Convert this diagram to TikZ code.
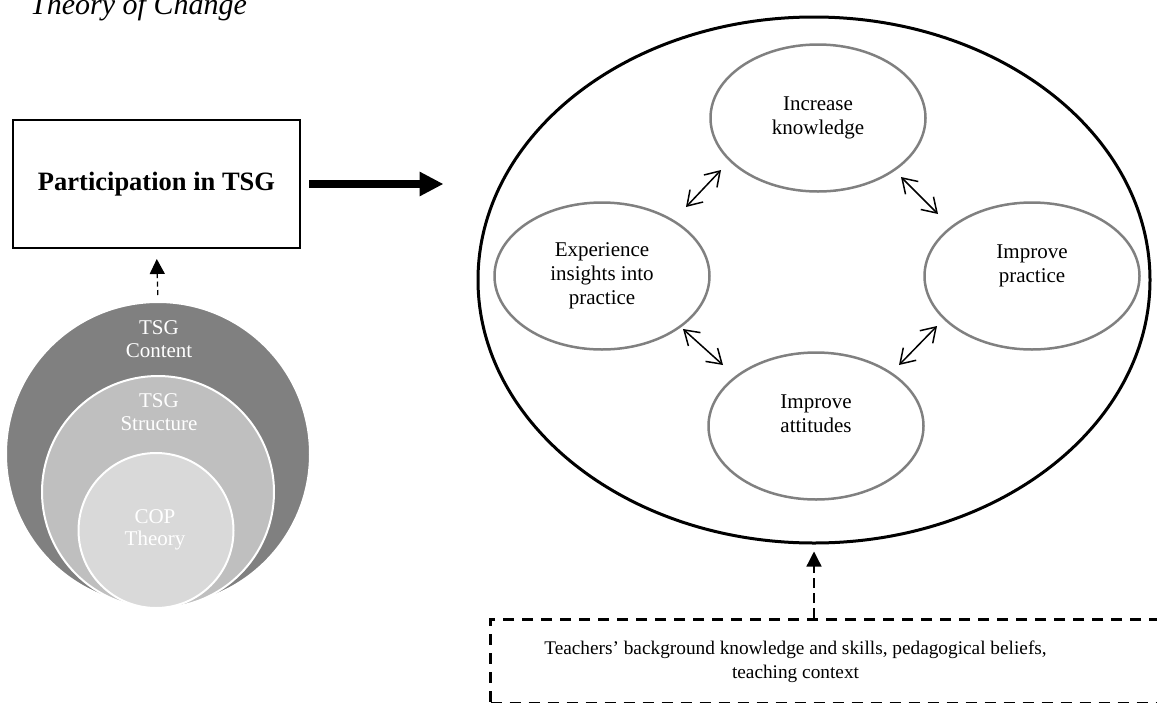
\documentclass[tikz,border=0pt]{standalone}
\usepackage{fontspec}
\setmainfont{Liberation Serif}
\usetikzlibrary{arrows.meta,shapes.geometric,calc}
\begin{document}
\begin{tikzpicture}[x=1pt,y=-1pt,
  outcome/.style={ellipse, draw=black!50, line width=2.5pt, minimum width=215pt,
    minimum height=147pt, inner sep=0pt, align=center, font=\fontsize{21}{24}\selectfont},
  ringtext/.style={text=white, align=center, font=\fontsize{21}{22.5}\selectfont},
  link/.style={{Straight Barb[length=14pt,width=18pt]}-{Straight Barb[length=14pt,width=18pt]},
    line width=1.5pt},
  dasharrow/.style={-{Triangle[length=15pt,width=15pt]}, line width=1.3pt},
  bigarrow/.style={-{Triangle[length=24pt,width=23pt]}, line width=8pt},
]
\useasboundingbox (0,0) rectangle (1157,702);

% heading
\node[anchor=base west, inner sep=0pt, font=\fontsize{30}{32}\selectfont\itshape] (title) at (30,14) {Theory of Change};

% input box
\node[draw, line width=2pt, minimum width=287pt, minimum height=128pt, inner sep=0pt,
  font=\fontsize{26.5}{30}\selectfont\bfseries] (box) at (156.5,184) {Participation in TSG};

% nested circles
\node[circle, fill=black!50, draw=white, line width=2pt, minimum size=304pt, inner sep=0pt] (outer) at (158,454) {};
\node[circle, fill=black!25, draw=white, line width=2pt, minimum size=232pt, inner sep=0pt] (middle) at (158,492) {};
\node[circle, fill=black!15, draw=white, line width=2pt, minimum size=155pt, inner sep=0pt] (inner) at (156,530.5) {};
\node[ringtext] (outerlbl) at (159,339) {TSG\\Content};
\node[ringtext] (middlelbl) at (159,412) {TSG\\Structure};
\node[ringtext] (innerlbl) at (155,530) {COP\\Theory};

\draw[dasharrow, dash pattern=on 5pt off 3.5pt, shorten <=6pt, shorten >=10pt] (outer.north) -- (box.south);

% outcomes
\node[ellipse, draw, line width=3pt, minimum width=672pt, minimum height=526pt, inner sep=0pt] (big) at (814,280) {};
\node[outcome] (know) at (818,118) {Increase\\knowledge};
\node[outcome] (exp) at (602,276) {Experience\\insights into\\practice};
\node[outcome] (prac) at (1032,276) {Improve\\practice\\\mbox{}};
\node[outcome] (att) at (816,426) {Improve\\attitudes\\\mbox{}};

\draw[bigarrow] ([xshift=8pt]box.east) -- ($(box.east -| big.west)+(-33,0)$);

\coordinate (l1a) at (686,207); \coordinate (l1b) at (721,170);
\coordinate (l2a) at (901,177); \coordinate (l2b) at (938,214);
\coordinate (l3a) at (683,329); \coordinate (l3b) at (723,365);
\coordinate (l4a) at (899,365); \coordinate (l4b) at (937,326);
\draw[link] (l1a) -- (l1b);
\draw[link] (l2a) -- (l2b);
\draw[link] (l3a) -- (l3b);
\draw[link] (l4a) -- (l4b);

% context box
\node[draw, dashed, dash pattern=on 11pt off 8pt, line width=3pt, anchor=north west,
  minimum width=711pt, minimum height=83.5pt, inner sep=0pt] (ctx) at (489,618) {};
\node[align=center, font=\fontsize{19.3}{24.5}\selectfont] (ctxtext) at (795.5,662)
  {Teachers’ background knowledge and skills, pedagogical beliefs,\\teaching context};
\draw[dasharrow, dash pattern=on 10pt off 5pt, shorten >=7pt] (ctx.north -| big.south) -- (big.south);
\end{tikzpicture}
\end{document}
